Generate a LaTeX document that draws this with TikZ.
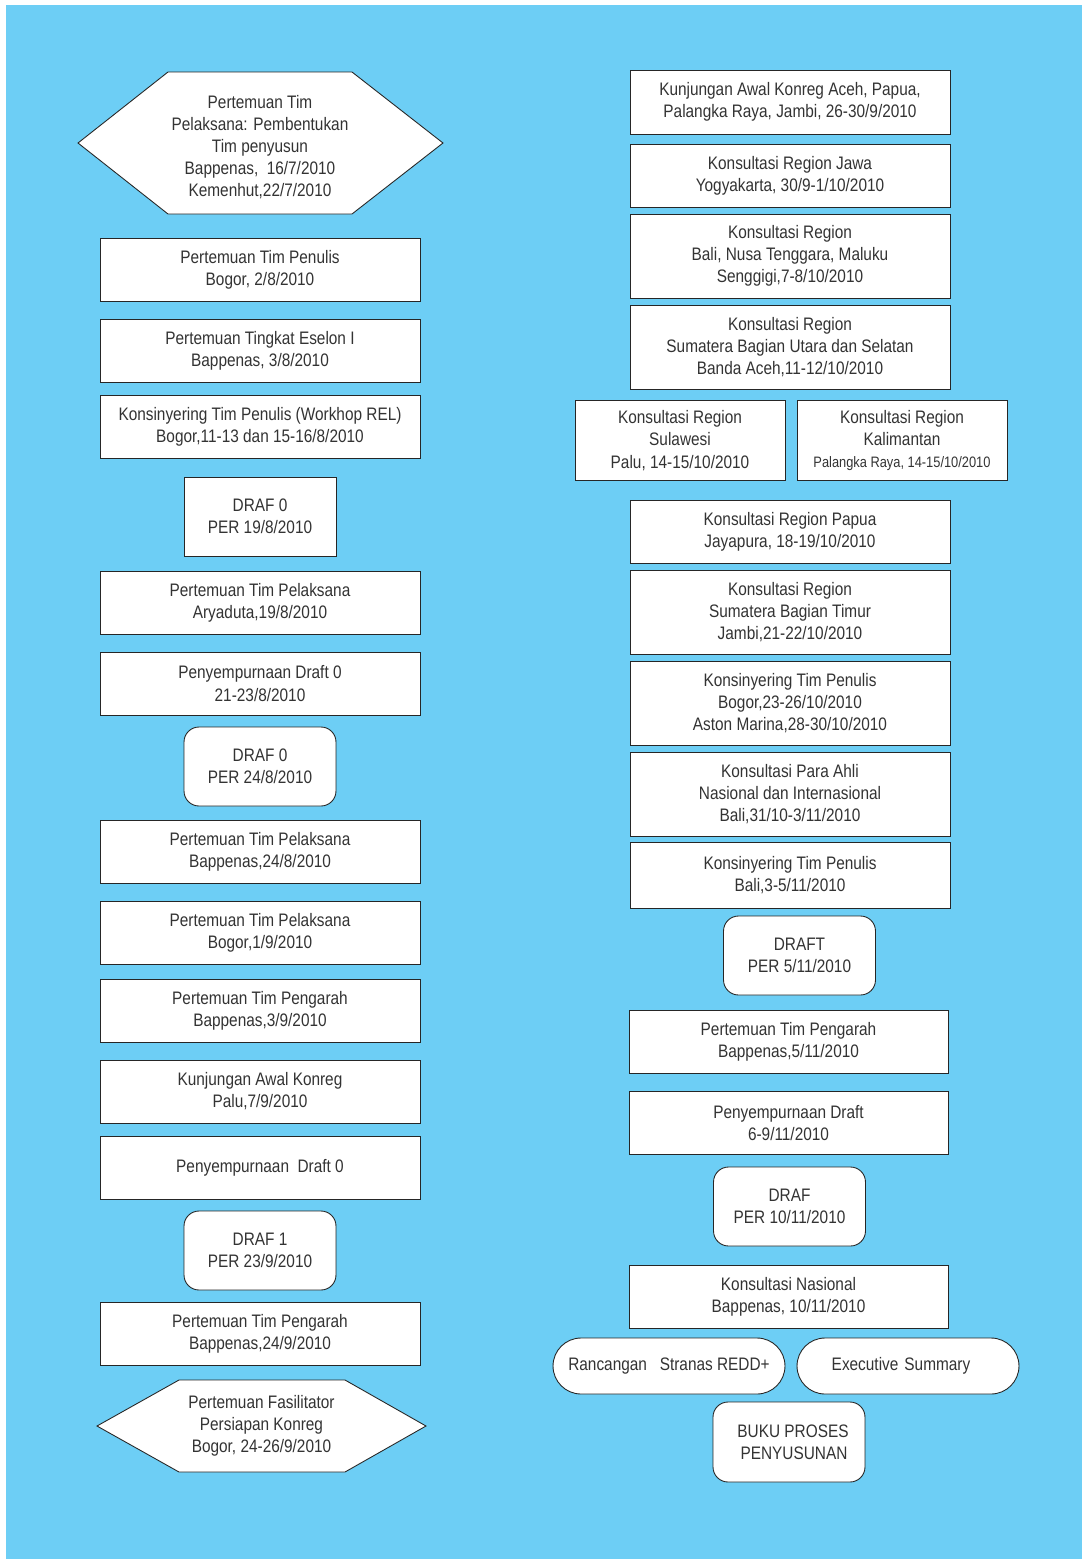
\documentclass[tikz,border=0pt]{standalone}
\usepackage{fontspec}
\setmainfont[FakeStretch=0.85]{Liberation Sans}
\usepackage{tikz}
\usetikzlibrary{positioning}
\definecolor{bgblue}{HTML}{6DCEF5}
\definecolor{ink}{HTML}{333333}
\tikzstyle{flow}=[every node/.style={draw=black!85, line width=0.5pt, fill=white,
                text=ink, align=center, inner sep=2pt,
                font=\fontsize{10.3pt}{12.6pt}\selectfont}]
\tikzstyle{wbox}=[minimum width=6.4cm, minimum height=1.26cm]
\tikzstyle{lbox}=[minimum width=6.4cm, minimum height=1.68cm]
\tikzstyle{dbox}=[minimum width=3.04cm, minimum height=1.58cm]
\tikzstyle{rbox}=[dbox, rounded corners=0.3cm]
\tikzstyle{pill}=[minimum height=1.12cm, rounded corners=0.56cm]
\tikzstyle{hexa}=[draw=black!85, line width=0.5pt, fill=white]

\begin{document}
\begin{tikzpicture}[flow, x=0.02cm, y=-0.02cm]
  \path[use as bounding box] (0,0) rectangle (1082,1559);
  \fill[bgblue] (6,5) rectangle (1082,1559);

  % left column
  \draw[hexa] (78,143) -- (168,72) -- (352,72) -- (443,143) -- (352,214) -- (168,214) -- cycle;
  \node[draw=none, fill=none] (h1) at (260,147)
    {Pertemuan Tim\\Pelaksana: Pembentukan\\Tim penyusun\\Bappenas,\ \ 16/7/2010\\Kemenhut,22/7/2010};
  \node[wbox] (b1) at (260,269.5) {Pertemuan Tim Penulis\\Bogor, 2/8/2010};
  \node[wbox] (b2) at (260,350.5) {Pertemuan Tingkat Eselon I\\Bappenas, 3/8/2010};
  \node[wbox] (b3) at (260,426.5) {Konsinyering Tim Penulis (Workhop REL)\\Bogor,11-13 dan 15-16/8/2010};
  \node[dbox] (d1) at (260,516.5) {DRAF 0\\PER 19/8/2010};
  \node[wbox] (b4) at (260,602.5) {Pertemuan Tim Pelaksana\\Aryaduta,19/8/2010};
  \node[wbox] (b5) at (260,683.5) {Penyempurnaan Draft 0\\21-23/8/2010};
  \node[rbox] (d2) at (260,766.5) {DRAF 0\\PER 24/8/2010};
  \node[wbox] (b6) at (260,851.5) {Pertemuan Tim Pelaksana\\Bappenas,24/8/2010};
  \node[wbox] (b7) at (260,932.5) {Pertemuan Tim Pelaksana\\Bogor,1/9/2010};
  \node[wbox] (b8) at (260,1010.5) {Pertemuan Tim Pengarah\\Bappenas,3/9/2010};
  \node[wbox] (b9) at (260,1091.5) {Kunjungan Awal Konreg\\Palu,7/9/2010};
  \node[wbox] (b10) at (260,1167.5) {Penyempurnaan\ \ Draft 0};
  \node[rbox] (d3) at (260,1250.5) {DRAF 1\\PER 23/9/2010};
  \node[wbox] (b11) at (260,1333.5) {Pertemuan Tim Pengarah\\Bappenas,24/9/2010};
  \draw[hexa] (97,1426) -- (179,1380) -- (345,1380) -- (426,1426) -- (345,1472) -- (179,1472) -- cycle;
  \node[draw=none, fill=none] (h2) at (261.5,1426)
    {Pertemuan Fasilitator\\Persiapan Konreg\\Bogor, 24-26/9/2010};

  % right column
  \node[wbox, minimum height=1.28cm] (r1) at (790,102) {Kunjungan Awal Konreg Aceh, Papua,\\Palangka Raya, Jambi, 26-30/9/2010};
  \node[wbox] (r2) at (790,175.5) {Konsultasi Region Jawa\\Yogyakarta, 30/9-1/10/2010};
  \node[lbox] (r3) at (790,256) {Konsultasi Region\\Bali, Nusa Tenggara, Maluku\\Senggigi,7-8/10/2010};
  \node[lbox] (r4) at (790,347) {Konsultasi Region\\Sumatera Bagian Utara dan Selatan\\Banda Aceh,11-12/10/2010};
  \node[minimum width=4.2cm, minimum height=1.6cm] (r5a) at (680,440.5)
    {Konsultasi Region\\Sulawesi\\Palu, 14-15/10/2010};
  \node[minimum width=4.2cm, minimum height=1.6cm] (r5b) at (902,440.5)
    {Konsultasi Region\\Kalimantan\\{\fontsize{8.6pt}{12.6pt}\selectfont Palangka Raya, 14-15/10/2010}};
  \node[wbox] (r6) at (790,531.5) {Konsultasi Region Papua\\Jayapura, 18-19/10/2010};
  \node[lbox] (r7) at (790,612) {Konsultasi Region\\Sumatera Bagian Timur\\Jambi,21-22/10/2010};
  \node[lbox] (r8) at (790,703) {Konsinyering Tim Penulis\\Bogor,23-26/10/2010\\Aston Marina,28-30/10/2010};
  \node[lbox] (r9) at (790,794) {Konsultasi Para Ahli\\Nasional dan Internasional\\Bali,31/10-3/11/2010};
  \node[wbox, minimum height=1.32cm] (r10) at (790,875.5) {Konsinyering Tim Penulis\\Bali,3-5/11/2010};
  \node[rbox] (r11) at (799.5,955.5) {DRAFT\\PER 5/11/2010};
  \node[wbox, minimum width=6.38cm] (r12) at (788.5,1042) {Pertemuan Tim Pengarah\\Bappenas,5/11/2010};
  \node[wbox, minimum width=6.38cm] (r13) at (788.5,1123) {Penyempurnaan Draft\\6-9/11/2010};
  \node[rbox] (r14) at (789.5,1206.5) {DRAF\\PER 10/11/2010};
  \node[wbox, minimum width=6.38cm] (r15) at (788.5,1297) {Konsultasi Nasional\\Bappenas, 10/11/2010};
  \node[pill, minimum width=4.64cm] (r16) at (669,1366) {Rancangan\ \ \ Stranas REDD+};
  \node[pill, minimum width=4.44cm, text width=4.1cm] (r17) at (908,1366) {\hspace*{-0.28cm}Executive Summary};
  \node[rbox, minimum height=1.6cm] (r18) at (789,1442) {\hspace*{0.16cm}BUKU PROSES\\\hspace*{0.2cm}PENYUSUNAN};
\end{tikzpicture}
\end{document}
